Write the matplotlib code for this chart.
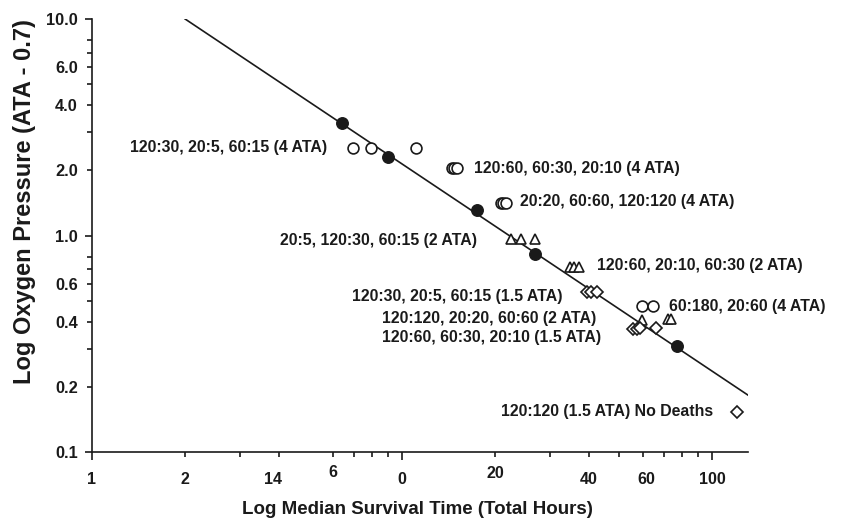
import matplotlib
matplotlib.use("Agg")
import matplotlib.pyplot as plt
from matplotlib.transforms import ScaledTranslation
from matplotlib.font_manager import FontProperties

plt.rcParams['font.family'] = ['Liberation Sans', 'DejaVu Sans']
plt.rcParams['font.weight'] = 'bold'
plt.rcParams['axes.labelweight'] = 'bold'

# ---- data ----
fit_x = [2.0, 130.0]
fit_y = [10.0, 0.184]

filled_x = [6.40, 8.99, 17.4, 26.9, 76.9]
filled_y = [3.32, 2.31, 1.32, 0.820, 0.308]

open_x = [6.95, 7.94, 11.1, 14.5, 14.7, 15.0, 20.9, 21.2, 21.7, 59.2, 64.5]
open_y = [2.55, 2.55, 2.55, 2.06, 2.06, 2.06, 1.42, 1.42, 1.42, 0.475, 0.475]

tri_x = [22.4, 24.2, 26.8, 34.9, 35.8, 37.1, 59.2, 72.1, 73.4]
tri_y = [0.961, 0.961, 0.961, 0.719, 0.719, 0.719, 0.408, 0.411, 0.411]

dia_x = [39.5, 40.5, 42.4, 55.3, 57.0, 58.5, 65.9, 120.4]
dia_y = [0.551, 0.551, 0.551, 0.371, 0.371, 0.373, 0.373, 0.154]

annot_text = [
    "120:30, 20:5, 60:15 (4 ATA)",
    "120:60, 60:30, 20:10 (4 ATA)",
    "20:20, 60:60, 120:120 (4 ATA)",
    "20:5, 120:30, 60:15 (2 ATA)",
    "120:60, 20:10, 60:30 (2 ATA)",
    "120:30, 20:5, 60:15 (1.5 ATA)",
    "60:180, 20:60 (4 ATA)",
    "120:120, 20:20, 60:60 (2 ATA)",
    "120:60, 60:30, 20:10 (1.5 ATA)",
    "120:120 (1.5 ATA) No Deaths",
]
annot_pos = [
    (1.329, 2.556), (17.11, 2.045), (24.07, 1.434), (4.05, 0.954),
    (42.35, 0.732), (6.90, 0.5264), (72.3, 0.4709), (8.62, 0.4167),
    (8.62, 0.3404), (20.86, 0.1551),
]

x_major = [1, 10, 100]
x_major_labels = ["1", "0", "100"]
x_minor = [2, 3, 4, 6, 7, 8, 9, 20, 30, 40, 50, 60, 70, 80, 90]
x_minor_labels = ["2", "", "14", "6", "", "", "", "20", "", "40", "", "60", "", "", ""]

y_major = [0.1, 1, 10]
y_major_labels = ["0.1", "1.0", "10.0"]
y_minor = [0.2, 0.3, 0.4, 0.5, 0.6, 0.7, 0.8, 2, 3, 4, 5, 6, 7, 8]
y_minor_labels = ["0.2", "", "0.4", "", "0.6", "", "", "2.0", "", "4.0", "", "6.0", "", ""]

ink = "#1a1a1a"

fig = plt.figure(figsize=(8.43, 5.21), dpi=100)
ax = fig.add_axes([91.7 / 843, (521 - 452.3) / 521, (747.7 - 91.7) / 843, (452.3 - 19) / 521])
ax.set_xscale('log')
ax.set_yscale('log')
ax.set_xlim(1, 130)
ax.set_ylim(0.1, 10)

ax.plot(fit_x, fit_y, color=ink, lw=1.2, zorder=2)
ax.plot(filled_x, filled_y, 'o', ms=8.3, mfc=ink, mec=ink, zorder=4)
ax.plot(open_x, open_y, 'o', ms=7.8, mfc='white', mec=ink, mew=1.2, zorder=3)
ax.plot(tri_x, tri_y, '^', ms=7.8, mfc='white', mec=ink, mew=1.2, zorder=3)
ax.plot(dia_x, dia_y, 'D', ms=6.5, mfc='white', mec=ink, mew=1.2, zorder=3)

for t, (px, py) in zip(annot_text, annot_pos):
    ax.text(px, py, t, ha='left', va='center', fontsize=11.4, fontweight='bold', color=ink)

for s in ['top', 'right']:
    ax.spines[s].set_visible(False)
for s in ['left', 'bottom']:
    ax.spines[s].set_linewidth(1.2)
    ax.spines[s].set_color(ink)

ax.set_xticks(x_major)
ax.set_xticklabels(x_major_labels)
ax.set_xticks(x_minor, minor=True)
ax.set_xticklabels(x_minor_labels, minor=True)
ax.set_yticks(y_major)
ax.set_yticklabels(y_major_labels)
ax.set_yticks(y_minor, minor=True)
ax.set_yticklabels(y_minor_labels, minor=True)

ax.tick_params(axis='x', which='major', length=6, width=1.2, pad=8, labelsize=11.5, colors=ink)
ax.tick_params(axis='x', which='minor', length=3.5, width=1.2, pad=10.5, labelsize=11.5, colors=ink)
ax.tick_params(axis='y', which='major', length=5, width=1.2, pad=5, labelsize=11.8, colors=ink)
ax.tick_params(axis='y', which='minor', length=3.5, width=1.2, pad=6.5, labelsize=11.8, colors=ink)

for lab in ax.get_xticklabels() + ax.get_xticklabels(minor=True) + ax.get_yticklabels() + ax.get_yticklabels(minor=True):
    lab.set_fontweight('bold')

# small individual offsets of tick labels as in the original
offsets = {"6": (0, 7), "20": (0, 6), "14": (-6, 0), "60": (3, 0)}
for lab in ax.get_xticklabels(minor=True):
    txt = lab.get_text()
    if txt in offsets:
        dx, dy = offsets[txt]
        lab.set_transform(lab.get_transform() + ScaledTranslation(dx / 100, dy / 100, fig.dpi_scale_trans))

xfp = FontProperties(family='Liberation Sans', weight='bold', size=13.5)
yfp = FontProperties(family='Liberation Sans', weight='bold', size=17)
fig.text(417 / 843, 1 - 509 / 521, "Log Median Survival Time (Total Hours)", fontproperties=xfp,
         color=ink, ha='center', va='center')
fig.text(25 / 843, 1 - 202 / 521, "Log Oxygen Pressure (ATA - 0.7)", fontproperties=yfp,
         color=ink, ha='center', va='center', rotation=90)

fig.savefig("out.png", dpi=100)
